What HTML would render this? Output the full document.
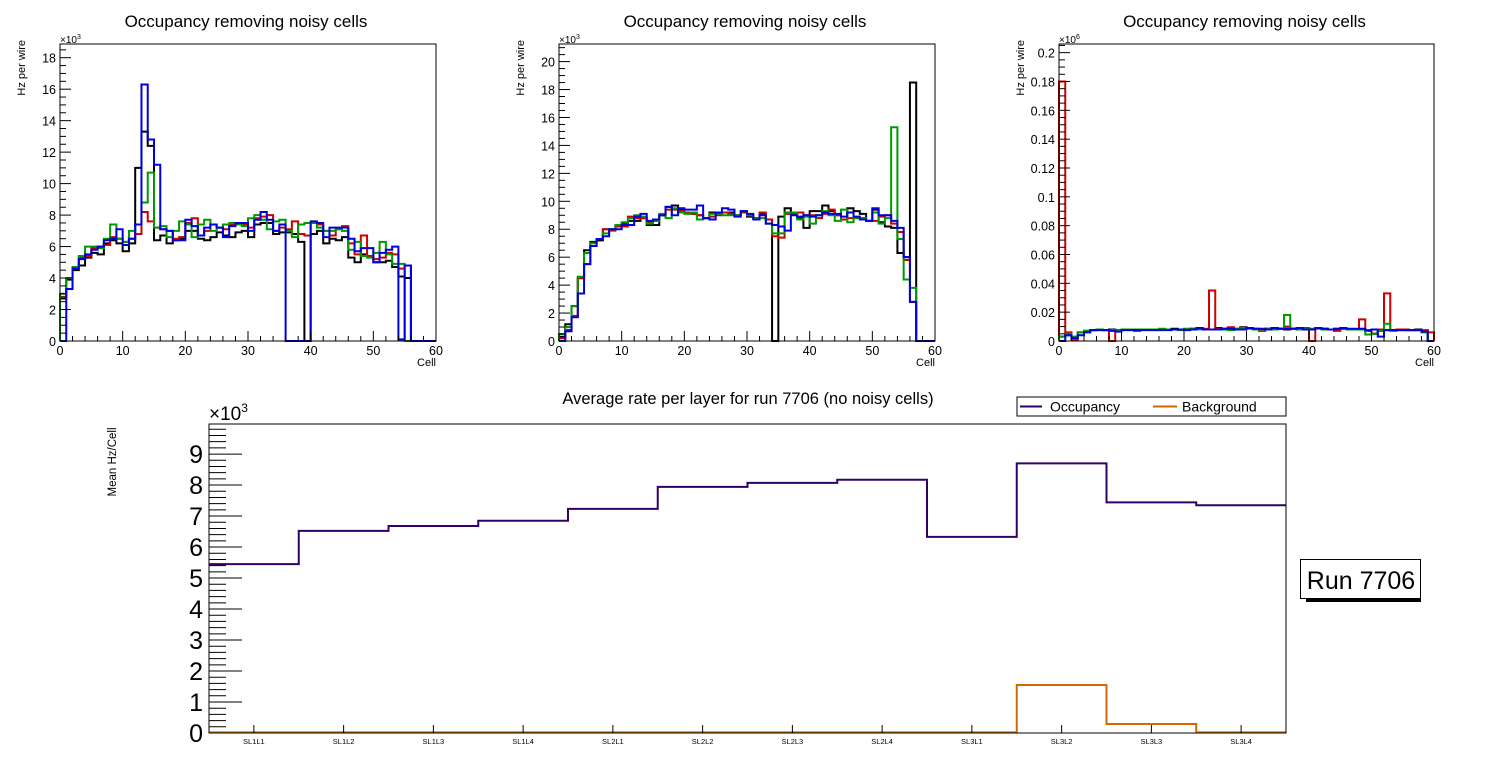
<!DOCTYPE html>
<html><head><meta charset="utf-8"><style>
html,body{margin:0;padding:0;background:#fff;}
svg{display:block;font-family:"Liberation Sans",Arial,sans-serif;}
</style></head><body>
<svg id="c" width="1496" height="772" viewBox="0 0 1496 772" xmlns="http://www.w3.org/2000/svg"></svg>
<script>
// ---------- Data ----------
const p1Black=[2.7,3.9,4.5,4.8,5.3,5.6,5.5,6.2,6.4,6.2,5.7,6.2,11.0,13.3,12.4,6.4,6.7,6.2,6.4,6.5,7.0,7.0,6.5,6.4,6.6,6.9,6.7,6.6,6.9,7.0,6.6,7.4,7.5,7.5,6.8,6.9,6.9,6.8,6.3,0,6.8,7.0,6.2,6.5,6.4,6.6,5.3,5.0,5.5,5.4,5.0,5.0,5.1,4.7,4.1,4.0,0,0,0,0];
const p1Red=[2.8,3.3,4.7,5.3,5.4,5.9,6.0,6.1,6.6,6.5,6.3,6.5,6.8,8.2,7.6,7.2,7.1,7.0,6.5,6.6,7.5,7.8,6.7,7.0,7.4,7.2,7.1,7.4,7.5,7.4,7.2,7.8,7.9,8.0,7.0,7.2,7.1,7.6,6.8,6.7,7.5,7.4,7.0,6.7,7.1,7.3,6.2,5.5,6.7,5.4,5.2,5.3,5.6,5.5,4.6,4.8,0,0,0,0];
const p1Green=[3.0,4.0,4.7,5.4,6.0,6.0,5.9,6.5,7.4,6.5,6.3,7.0,7.4,8.8,10.7,7.2,7.3,6.6,7.0,7.6,7.4,6.6,7.4,7.7,7.0,7.2,7.4,7.5,7.4,7.3,7.8,8.0,7.7,7.1,7.6,7.7,7.0,6.6,7.4,7.5,7.5,7.2,7.0,7.0,7.1,7.0,5.8,6.3,5.4,5.3,5.6,6.3,5.5,4.9,4.9,0,0,0,0,0];
const p1Blue=[0,3.3,4.6,5.2,5.5,5.8,6.0,6.4,6.5,7.1,6.1,6.5,7.4,16.3,12.8,11.2,7.1,7.0,6.4,6.4,7.7,7.3,6.7,7.2,7.4,7.2,6.6,7.3,7.5,7.5,7.0,7.7,8.2,7.7,7.0,7.4,0,0,0,0,7.6,7.5,6.6,7.2,7.2,7.2,6.5,5.7,5.9,5.9,5.0,5.6,5.8,6.0,0.1,4.8,0,0,0,0];

const p2Black=[0.3,1.2,2.5,4.5,6.5,7.1,7.2,8.0,8.0,8.2,8.4,8.6,8.6,8.8,8.3,8.3,9.0,9.6,9.7,9.4,9.2,9.1,9.0,8.8,9.2,9.2,9.2,9.2,9.0,9.2,8.9,8.8,9.1,8.7,0,8.9,9.5,9.2,8.8,8.1,9.3,9.3,9.7,9.3,9.0,8.7,9.5,9.3,9.1,8.6,9.4,8.5,8.2,8.1,6.3,6.0,18.5,0,0,0];
const p2Red=[0.2,0.8,1.8,4.5,5.5,6.8,7.3,8.0,7.9,8.2,8.2,8.9,8.8,8.8,8.5,8.6,9.0,9.4,9.4,9.3,9.2,9.1,9.0,8.8,8.9,9.0,9.2,9.1,9.0,9.2,9.0,8.8,9.2,8.7,7.5,7.4,9.1,9.1,9.2,9.0,9.0,8.8,9.1,9.4,9.0,8.7,8.8,8.8,8.8,8.6,8.6,8.9,9.0,8.4,7.8,5.8,2.8,0,0,0];
const p2Green=[0.5,1.0,2.5,4.6,6.3,7.0,7.3,7.7,8.0,8.3,8.5,8.8,9.0,8.9,8.4,8.6,9.1,8.8,9.5,9.2,9.1,9.2,8.7,8.8,9.1,9.1,9.0,9.0,9.0,9.3,9.0,8.8,8.8,8.4,7.7,7.7,9.2,9.2,8.7,8.9,8.4,9.0,9.3,9.0,8.6,9.4,8.5,8.8,8.8,8.6,9.2,8.4,8.8,15.3,7.3,4.4,3.8,0,0,0];
const p2Blue=[0,0.7,1.7,3.4,5.5,6.8,7.3,7.5,8.0,8.0,8.3,8.3,8.9,9.1,8.6,8.7,9.0,9.6,9.0,9.5,9.4,9.4,9.7,8.8,8.7,9.2,9.5,9.4,8.9,9.3,9.1,8.7,9.0,8.4,8.3,8.2,7.9,9.0,8.9,9.0,8.9,9.0,9.2,9.1,9.1,8.9,9.2,8.9,8.7,8.6,9.5,9.0,9.0,8.6,8.1,6.0,2.8,0,0,0];

const p3Black=[0.003,0.004,0.002,0.006,0.007,0.0075,0.008,0.0075,0.008,0.0075,0.008,0.008,0.008,0.008,0.008,0.008,0.008,0.008,0.0085,0.008,0.008,0.0085,0.008,0.008,0.008,0.009,0.0085,0.008,0.0085,0.0095,0.009,0.0085,0.008,0.0085,0.0085,0.0085,0.008,0.0085,0.008,0.008,0.008,0.009,0.0085,0.008,0.008,0.0085,0.008,0.008,0.008,0.007,0.005,0.007,0.0075,0.0075,0.008,0.0075,0.0075,0.008,0.007,0];
const p3Red=[0.18,0.006,0.0005,0.006,0.007,0.0075,0.008,0.0075,0.0,0.0075,0.008,0.008,0.007,0.008,0.008,0.008,0.008,0.008,0.008,0.008,0.008,0.0085,0.008,0.0085,0.035,0.0085,0.008,0.0095,0.008,0.009,0.009,0.008,0.007,0.0085,0.009,0.0085,0.01,0.0085,0.008,0.009,0.0,0.009,0.0085,0.008,0.007,0.0085,0.008,0.008,0.015,0.007,0.005,0.008,0.033,0.0075,0.008,0.008,0.0075,0.0075,0.0075,0.006];
const p3Green=[0.003,0.005,0.003,0.006,0.007,0.0075,0.008,0.0075,0.0075,0.0075,0.008,0.008,0.008,0.008,0.008,0.008,0.0085,0.008,0.008,0.0075,0.0085,0.0085,0.008,0.008,0.008,0.008,0.008,0.0075,0.0085,0.009,0.0085,0.008,0.008,0.0085,0.008,0.0085,0.018,0.0085,0.008,0.0085,0.0085,0.0085,0.008,0.008,0.0085,0.0085,0.008,0.008,0.008,0.0045,0.005,0.007,0.012,0.007,0.0075,0.0075,0.0075,0.0075,0.006,0];
const p3Blue=[0,0.004,0.002,0.004,0.006,0.0075,0.0075,0.0075,0.007,0.0065,0.0075,0.0075,0.0075,0.0075,0.0075,0.0075,0.0075,0.0075,0.008,0.008,0.0075,0.008,0.009,0.008,0.008,0.008,0.0085,0.0085,0.008,0.008,0.009,0.0085,0.0085,0.008,0.009,0.0085,0.0085,0.0085,0.009,0.008,0.008,0.009,0.0085,0.008,0.0085,0.009,0.0085,0.0085,0.0085,0.0075,0.008,0.003,0.0075,0.0075,0.0075,0.0075,0.0075,0.0075,0.0065,0];

const layerLabels=["SL1L1","SL1L2","SL1L3","SL1L4","SL2L1","SL2L2","SL2L3","SL2L4","SL3L1","SL3L2","SL3L3","SL3L4"];
const occupancy=[5.45,6.52,6.68,6.85,7.23,7.94,8.07,8.17,6.33,8.70,7.44,7.35];
const background=[0.02,0.02,0.02,0.02,0.02,0.02,0.02,0.02,0.02,1.55,0.29,0.02];
const yTicksBottom=[0,1,2,3,4,5,6,7,8,9];

// ---------- helpers ----------
const NS="http://www.w3.org/2000/svg";
const svg=document.getElementById('c');
function mk(tag,attrs,parent,text){
  const e=document.createElementNS(NS,tag);
  for(const k in attrs)e.setAttribute(k,attrs[k]);
  if(text!==undefined)e.textContent=text;
  (parent||svg).appendChild(e);return e;
}
function fmt(v,dec){return dec?(+v.toFixed(dec)).toString():String(Math.round(v));}

function panel(cfg){
  const g=mk('g',{});
  
  
  const {x0,x1,y0,y1,ymax}=cfg;
  const X=v=>x0+(v/60)*(x1-x0);
  const Y=v=>y1-(v/ymax)*(y1-y0);
  const t=mk('text',{x:(x0+x1)/2-2,y:27,'font-size':17,'text-anchor':'middle'},g,'Occupancy removing noisy cells');
  
  
  // hist
  const series=cfg.series;
  series.forEach(s=>{
    let d='M'+X(0)+' '+Y(0);
    s.data.forEach((v,i)=>{d+=' L'+X(i)+' '+Y(v)+' L'+X(i+1)+' '+Y(v);});
    d+=' L'+X(60)+' '+Y(0);
    const p=mk('path',{d:d,fill:'none',stroke:s.color,'stroke-width':2,'stroke-linejoin':'miter'},g);
    
    
  });
  // frame
  const fr=mk('rect',{x:x0,y:y0,width:x1-x0,height:y1-y0,fill:'none',stroke:'#000','stroke-width':1},g);
  
  
  // y ticks
  for(let v=0;v<=ymax+1e-9;v+=cfg.minor){
    const isMaj=Math.abs(v/cfg.major-Math.round(v/cfg.major))<1e-6;
    mk('line',{x1:x0,x2:x0+(isMaj?11:6),y1:Y(v),y2:Y(v),stroke:'#000','stroke-width':1},g);
    if(isMaj){
      const tl=mk('text',{x:x0-4,y:Y(v)+5,'font-size':12.5,'text-anchor':'end'},g,fmt(v,cfg.dec));
      
      
    }
  }
  // x ticks
  for(let v=0;v<=60;v+=2){
    const isMaj=v%10===0;
    mk('line',{x1:X(v),x2:X(v),y1:y1,y2:y1-(isMaj?10:5),stroke:'#000','stroke-width':1},g);
    if(isMaj){
      const tl=mk('text',{x:X(v),y:y1+14,'font-size':12.5,'text-anchor':'middle'},g,String(v));
      
      
    }
  }
  const ex=mk('text',{x:x0,y:y0-1,'font-size':10},g);
  
  
  ex.innerHTML='×10<tspan dy="-4" font-size="7">'+cfg.exp+'</tspan>';
  const yt=mk('text',{x:0,y:0,'font-size':11,'text-anchor':'end',transform:'translate('+(x0-35)+','+(y0-4)+') rotate(-90)'},g,'Hz per wire');
  
  
  const xt=mk('text',{x:x1,y:y1+25,'font-size':11,'text-anchor':'end'},g,'Cell');
  
  
}
const C={k:'#000000',r:'#d00000',g:'#009a00',b:'#0000dd'};
panel({name:'panel-1',x0:60,x1:436,y0:44,y1:341,ymax:18.87,major:2,minor:0.5,dec:0,exp:'3',
  series:[{name:'series-black',color:C.k,data:p1Black},{name:'series-red',color:C.r,data:p1Red},{name:'series-green',color:C.g,data:p1Green},{name:'series-blue',color:C.b,data:p1Blue}]});
panel({name:'panel-2',x0:559,x1:935,y0:44,y1:341,ymax:21.26,major:2,minor:0.5,dec:0,exp:'3',
  series:[{name:'series-black',color:C.k,data:p2Black},{name:'series-red',color:C.r,data:p2Red},{name:'series-green',color:C.g,data:p2Green},{name:'series-blue',color:C.b,data:p2Blue}]});
panel({name:'panel-3',x0:1059,x1:1434,y0:44,y1:341,ymax:0.206,major:0.02,minor:0.005,dec:2,exp:'6',
  series:[{name:'series-black',color:C.k,data:p3Black},{name:'series-red',color:C.r,data:p3Red},{name:'series-green',color:C.g,data:p3Green},{name:'series-blue',color:C.b,data:p3Blue}]});

// ---------- bottom chart ----------
(function(){
  const g=mk('g',{});
  
  
  const x0=209,x1=1286,y0=424,y1=733,ymax=9.97;
  const n=layerLabels.length,bw=(x1-x0)/n;
  const X=i=>x0+i*bw;
  const Y=v=>y1-(v/ymax)*(y1-y0);
  const t=mk('text',{x:748,y:404,'font-size':16.5,'text-anchor':'middle'},g,'Average rate per layer for run 7706 (no noisy cells)');
  
  
  function step(data,color,name){
    let d='M'+X(0)+' '+Y(data[0]);
    data.forEach((v,i)=>{d+=' L'+X(i)+' '+Y(v)+' L'+X(i+1)+' '+Y(v);});
    const p=mk('path',{d:d,fill:'none',stroke:color,'stroke-width':2},g);
    
    
  }
  step(occupancy,'#330066','occupancy-line');
  step(background,'#d06a00','background-line');
  const fr=mk('rect',{x:x0,y:y0,width:x1-x0,height:y1-y0,fill:'none',stroke:'#000','stroke-width':1},g);
  
  
  for(let v=0;v<=ymax;v+=0.2){
    const maj=Math.abs(v-Math.round(v))<1e-6;
    mk('line',{x1:x0,x2:x0+(maj?33:17),y1:Y(v),y2:Y(v),stroke:'#000','stroke-width':1},g);
  }
  yTicksBottom.forEach(v=>{
    const tl=mk('text',{x:203,y:Y(v)+9,'font-size':25,'text-anchor':'end'},g,String(v));
    
    
  });
  layerLabels.forEach((l,i)=>{
    const cx=X(i+0.5);
    mk('line',{x1:cx,x2:cx,y1:y1,y2:y1-8,stroke:'#000','stroke-width':1},g);
    const tl=mk('text',{x:cx,y:y1+11,'font-size':7.5,'text-anchor':'middle'},g,l);
    
    
  });
  const ex=mk('text',{x:209,y:420,'font-size':19},g);
  
  
  ex.innerHTML='×10<tspan dy="-8" font-size="12">3</tspan>';
  const yt=mk('text',{x:0,y:0,'font-size':11.5,'text-anchor':'middle',transform:'translate(116,462) rotate(-90)'},g,'Mean Hz/Cell');
  
  
  // legend
  const lg=mk('g',{},g);
  
  
  mk('rect',{x:1017,y:397,width:269,height:19,fill:'#fff',stroke:'#000','stroke-width':1},lg);
  mk('line',{x1:1020,x2:1042,y1:406.5,y2:406.5,stroke:'#330066','stroke-width':2},lg);
  const l1=mk('text',{x:1050,y:411.5,'font-size':14},lg,'Occupancy');
  
  
  mk('line',{x1:1153,x2:1177,y1:406.5,y2:406.5,stroke:'#d06a00','stroke-width':2},lg);
  const l2=mk('text',{x:1182,y:411.5,'font-size':14},lg,'Background');
  
  
  // run box
  const rb=mk('g',{});
  
  
  mk('rect',{x:1306,y:598,width:115,height:4,fill:'#000'},rb);
  mk('rect',{x:1300.5,y:559.5,width:120,height:39,fill:'#fff',stroke:'#000','stroke-width':1},rb);
  mk('text',{x:1361,y:589,'font-size':25,'text-anchor':'middle'},rb,'Run 7706');
})();
</script>
</body></html>
